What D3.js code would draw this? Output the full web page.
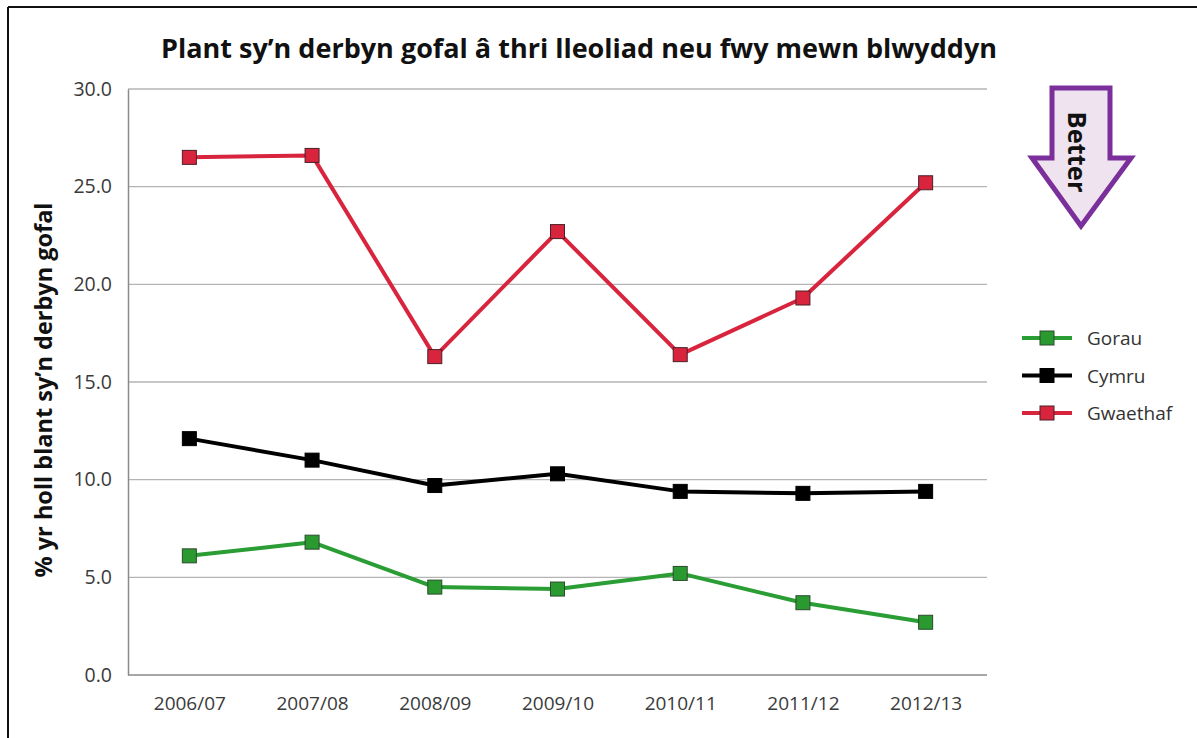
<!DOCTYPE html>
<html>
<head>
<meta charset="utf-8">
<script src="https://cdn.jsdelivr.net/npm/d3@7"></script>
<style>
  html, body { margin: 0; padding: 0; background: #ffffff; }
  svg { display: block; font-family: "Open Sans", "Noto Sans", sans-serif; }
</style>
</head>
<body>
<svg id="chart" width="1197" height="738"></svg>
<script>
// Years on the category axis
const years = ["2006/07", "2007/08", "2008/09", "2009/10", "2010/11", "2011/12", "2012/13"];

// Percentage of all looked-after children with three or more placements in a year
const gorau    = [6.1, 6.8, 4.5, 4.4, 5.2, 3.7, 2.7];
const cymru    = [12.1, 11.0, 9.7, 10.3, 9.4, 9.3, 9.4];
const gwaethaf = [26.5, 26.6, 16.3, 22.7, 16.4, 19.3, 25.2];

const seriesNames = ["Gorau", "Cymru", "Gwaethaf"];
const yTicks = [0, 5, 10, 15, 20, 25, 30];

const titleText = "Plant sy\u2019n derbyn gofal \u00e2 thri lleoliad neu fwy mewn blwyddyn";
const yLabelText = "% yr holl blant sy\u2019n derbyn gofal";
const arrowText = "Better";

const series = [
  { name: seriesNames[0], values: gorau,    line: "#2a9d34", fill: "#2a9a30", edge: "#2c4a2c" },
  { name: seriesNames[1], values: cymru,    line: "#000000", fill: "#000000", edge: "#000000" },
  { name: seriesNames[2], values: gwaethaf, line: "#d8253d", fill: "#d8253d", edge: "#4a2028" }
];

const svg = d3.select("#chart");

// Outer frame: top and left edges
svg.append("line").attr("x1", 8).attr("y1", 7).attr("x2", 1197).attr("y2", 7)
  .attr("stroke", "#111").attr("stroke-width", 2);
svg.append("line").attr("x1", 8).attr("y1", 7).attr("x2", 8).attr("y2", 738)
  .attr("stroke", "#111").attr("stroke-width", 2);

const plot = { left: 128, right: 987, top: 89, bottom: 675 };

const x = d3.scalePoint().domain(years).range([plot.left, plot.right]).padding(0.5);
const y = d3.scaleLinear().domain([0, 30]).range([plot.bottom, plot.top]);

// Horizontal gridlines
svg.append("g")
  .selectAll("line")
  .data(yTicks.filter(t => t > 0))
  .join("line")
  .attr("x1", plot.left).attr("x2", plot.right)
  .attr("y1", d => y(d)).attr("y2", d => y(d))
  .attr("stroke", "#b4b4b4").attr("stroke-width", 1.3);

// Y axis with one-decimal tick labels
const yAxis = svg.append("g")
  .attr("transform", `translate(${plot.left},0)`)
  .call(d3.axisLeft(y).tickValues(yTicks).tickFormat(d3.format(".1f")).tickSize(0).tickPadding(16));
yAxis.select(".domain").attr("stroke", "#8a8a8a").attr("stroke-width", 1.5);
yAxis.selectAll("text").attr("font-size", 19.5).attr("fill", "#3a3a3a")
  .attr("font-family", "'Open Sans', 'Noto Sans', sans-serif");

// X axis with year labels
const xAxis = svg.append("g")
  .attr("transform", `translate(0,${plot.bottom})`)
  .call(d3.axisBottom(x).tickSize(0).tickPadding(22));
xAxis.select(".domain").attr("stroke", "#8a8a8a").attr("stroke-width", 1.5)
  .attr("d", `M${plot.left},0H${plot.right}`);
xAxis.selectAll("text").attr("font-size", 19).attr("fill", "#3a3a3a")
  .attr("font-family", "'Open Sans', 'Noto Sans', sans-serif");

// Series lines and square markers
const line = d3.line().x((d, i) => x(years[i])).y(d => y(d));
const ms = 14;
series.forEach(s => {
  svg.append("path")
    .datum(s.values)
    .attr("d", line)
    .attr("fill", "none")
    .attr("stroke", s.line)
    .attr("stroke-width", 4)
    .attr("stroke-linejoin", "round");
  svg.append("g")
    .selectAll("rect")
    .data(s.values)
    .join("rect")
    .attr("x", (d, i) => x(years[i]) - ms / 2)
    .attr("y", d => y(d) - ms / 2)
    .attr("width", ms).attr("height", ms)
    .attr("fill", s.fill)
    .attr("stroke", s.edge).attr("stroke-width", 1);
});

// Title
svg.append("text")
  .attr("x", 579).attr("y", 58)
  .attr("text-anchor", "middle")
  .attr("font-size", 27).attr("font-weight", 700).attr("fill", "#111")
  .text(titleText);

// Y axis title
svg.append("text")
  .attr("transform", `translate(52,${(plot.top + plot.bottom) / 2 + 8}) rotate(-90)`)
  .attr("text-anchor", "middle")
  .attr("font-size", 23.5).attr("font-weight", 700).attr("fill", "#111")
  .text(yLabelText);

// Legend
const legend = svg.append("g");
const legendRows = [series[0], series[1], series[2]];
legendRows.forEach((s, i) => {
  const ly = 338 + i * 37.5;
  legend.append("line")
    .attr("x1", 1022).attr("x2", 1072).attr("y1", ly).attr("y2", ly)
    .attr("stroke", s.line).attr("stroke-width", 4);
  legend.append("rect")
    .attr("x", 1047 - 7).attr("y", ly - 7).attr("width", 14).attr("height", 14)
    .attr("fill", s.fill).attr("stroke", s.edge).attr("stroke-width", 1);
  legend.append("text")
    .attr("x", 1087).attr("y", ly + 7)
    .attr("font-size", 19).attr("fill", "#333")
    .text(s.name);
});

// "Better" arrow pointing down
const arrowPts = [
  [1052, 88], [1110, 88], [1110, 158], [1131, 158],
  [1081, 226], [1032, 158], [1052, 158]
];
svg.append("path")
  .attr("d", d3.line()(arrowPts) + "Z")
  .attr("fill", "#efe3f0")
  .attr("stroke", "#7a2f9a")
  .attr("stroke-width", 5)
  .attr("stroke-linejoin", "miter");
svg.append("text")
  .attr("transform", "translate(1068,152) rotate(90)")
  .attr("text-anchor", "middle")
  .attr("font-size", 25.5).attr("font-weight", 700).attr("fill", "#111")
  .text(arrowText);
</script>
</body>
</html>
